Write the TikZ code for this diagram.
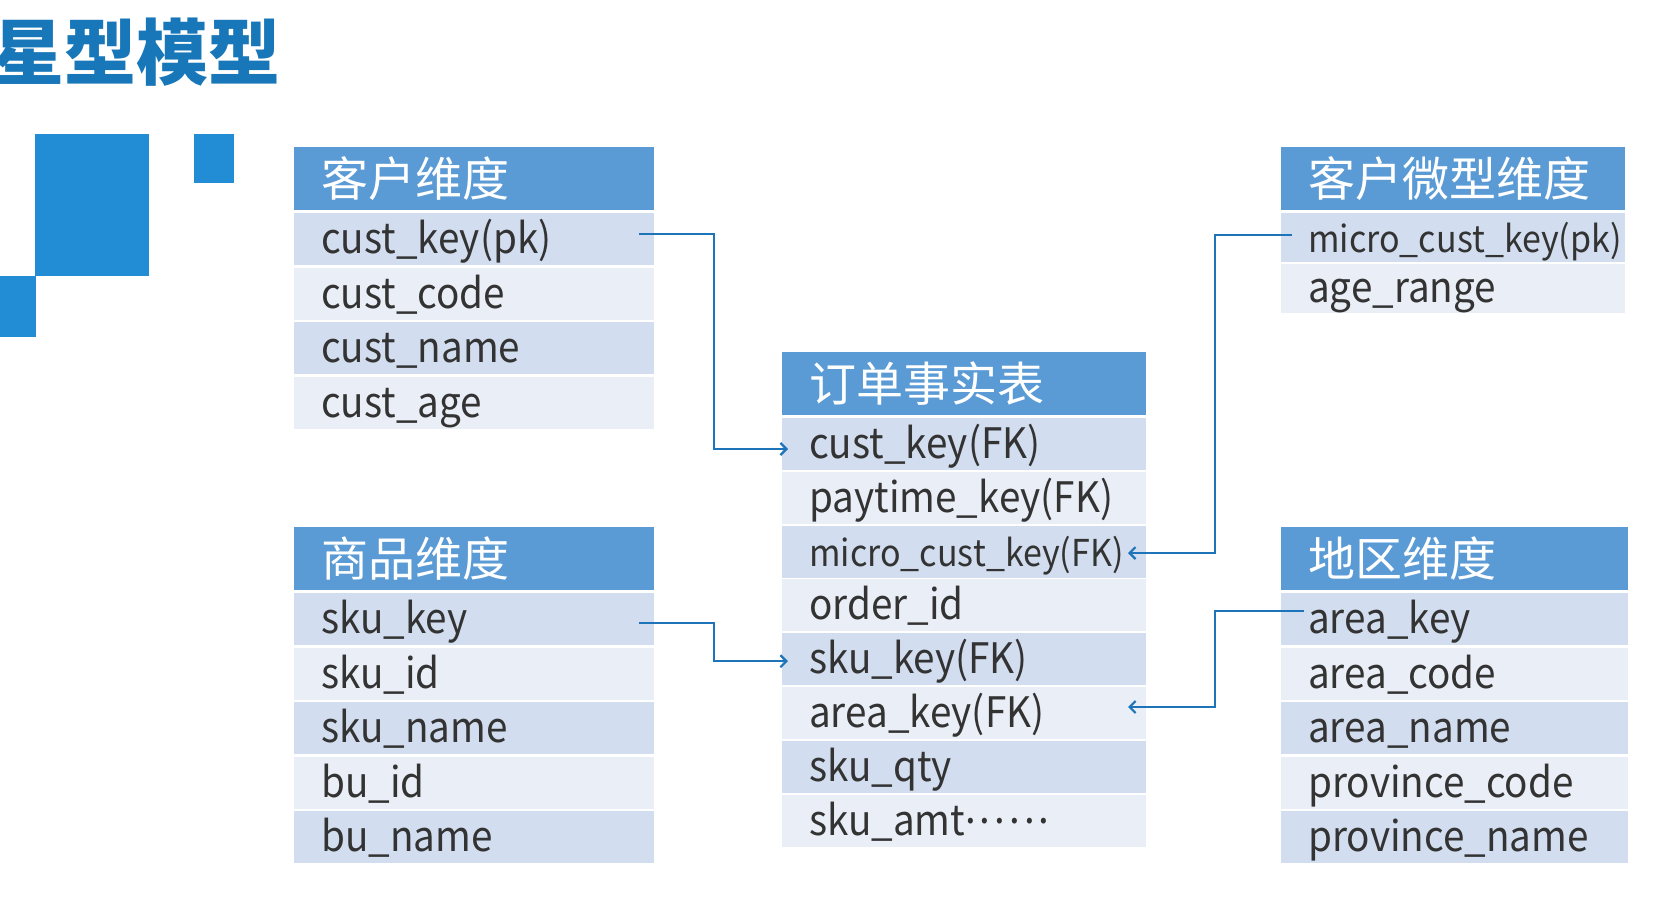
\documentclass[tikz,border=0pt]{standalone}
\usepackage{fontspec}
\setmainfont{Noto Sans CJK SC}
\newfontfamily\rowfont{Noto Sans CJK SC}[FakeStretch=0.92]
\usetikzlibrary{arrows.meta,calc}
\definecolor{hdrblue}{HTML}{5B9BD5}
\definecolor{rowdark}{HTML}{D2DEEF}
\definecolor{rowlight}{HTML}{EAEFF7}
\definecolor{titleblue}{HTML}{1877B8}
\definecolor{sqblue}{HTML}{228CD5}
\definecolor{linkblue}{HTML}{1E74B8}
\definecolor{txtgray}{HTML}{333333}
\newcommand\mc{\fontsize{37}{44}\selectfont}
\newcommand\middots{\raisebox{11.5pt}{.\kern4pt.\kern4pt.\kern4pt.\kern4pt.\kern4pt.}}
\newcommand\dimtab[9]{%
  \pgfmathsetmacro\hh{#5-3-#3}%
  \node[hdrcell, minimum width=#4, minimum height=\hh, anchor=north west] (#1h) at (#2,#3) {};
  \node[hdrtxt, anchor=base west] at ($(#1h.west)+(27,18)$) {#8};
  \foreach \rtxt [count=\i] in {#9} {
    \pgfmathsetmacro\yy{#5+(\i-1)*#6}
    \ifodd\i \def\cf{rowdark}\else\def\cf{rowlight}\fi
    \node[cell, fill=\cf, minimum width=#4, minimum height=#7, anchor=north west] (#1r\i) at (#2,\yy) {};
    \node[celltxt, anchor=base west] at ($(#1r\i.west)+(27,14.5)$) {\rtxt};
  }
}
\tikzset{
  hdrcell/.style={rectangle, fill=hdrblue, inner sep=0, outer sep=0},
  cell/.style={rectangle, inner sep=0, outer sep=0},
  hdrtxt/.style={inner sep=0, text=white, font=\fontsize{47}{52}\selectfont},
  celltxt/.style={inner sep=0, text=txtgray, font=\rowfont\fontsize{42}{48}\selectfont},
  titletxt/.style={inner sep=0, text=titleblue, font=\fontsize{72}{80}\selectfont\bfseries},
  link/.style={draw=linkblue, line width=2.2pt, -{Straight Barb[length=6pt,width=12pt]}},
}
\begin{document}
\begin{tikzpicture}[x=1pt,y=-1pt]
\fill[white] (0,0) rectangle (1663,900);
\useasboundingbox (0,0) rectangle (1663,900);
\begin{scope}
\clip (0,0) rectangle (1663,900);
\node[titletxt, anchor=base west] (title) at (-8,79) {星型模型};
\end{scope}
\fill[sqblue] (35,134) rectangle (149,276);
\fill[sqblue] (194,134) rectangle (234,183);
\fill[sqblue] (0,276) rectangle (36,337);

\dimtab{ta}{294}{147}{360}{213}{54.5}{52}{客户维度}{cust\_key(pk), cust\_code, cust\_name, cust\_age}
\dimtab{tb}{294}{527}{360}{593}{54.5}{52}{商品维度}{sku\_key, sku\_id, sku\_name, bu\_id, bu\_name}
\dimtab{tc}{782}{352}{364}{418}{53.8}{52}{订单事实表}{cust\_key(FK), paytime\_key(FK), {\mc micro\_cust\_key(FK)}, order\_id, sku\_key(FK), area\_key(FK), sku\_qty, sku\_amt\middots}
\dimtab{td}{1281}{147}{344}{213}{50.5}{49}{客户微型维度}{{\mc micro\_cust\_key(pk)}, age\_range}
\dimtab{te}{1281}{527}{347}{593}{54.5}{52}{地区维度}{area\_key, area\_code, area\_name, province\_code, province\_name}

\coordinate (s1) at ($(tar1.east)+(-15,-5)$);
\coordinate (e1) at ($(tcr1.west)+(6,5)$);
\draw[link] (s1) -- ++(75,0) |- (e1);
\coordinate (s2) at ($(tbr1.east)+(-15,4)$);
\coordinate (e2) at ($(tcr5.west)+(6,2)$);
\draw[link] (s2) -- ++(75,0) |- (e2);
\coordinate (s3) at ($(tdr1.west)+(11,-2.5)$);
\coordinate (e3) at ($(tcr3.east)+(-18,1.5)$);
\draw[link] (s3) -- ++(-77,0) |- (e3);
\coordinate (s4) at ($(ter1.west)+(23,-8)$);
\coordinate (e4) at ($(tcr6.east)+(-18,-6)$);
\draw[link] (s4) -- ++(-89,0) |- (e4);
\end{tikzpicture}
\end{document}
